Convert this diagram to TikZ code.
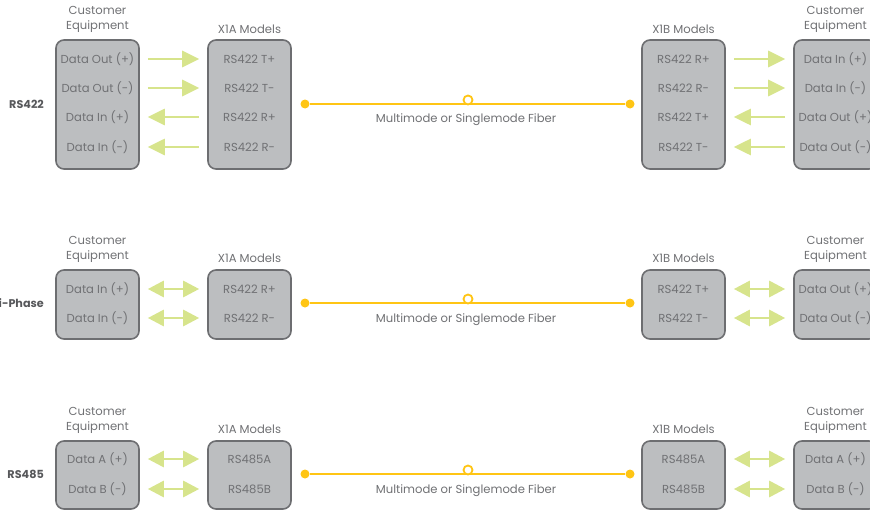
\documentclass[tikz,border=0pt]{standalone}
\usepackage{fontspec}
\setmainfont{Poppins}
\usetikzlibrary{arrows.meta}
\definecolor{boxGrey}{RGB}{188,190,192}
\definecolor{edgeGrey}{RGB}{109,110,113}
\definecolor{textGrey}{RGB}{112,113,116}
\definecolor{sigGreen}{RGB}{215,228,140}
\definecolor{fiberGold}{RGB}{255,197,20}
\tikzset{
  unit/.style={draw=edgeGrey, fill=boxGrey, line width=1.6pt, rounded corners=8pt, minimum width=83pt, inner sep=0pt},
  pin/.style={text=textGrey, font=\fontsize{11.6}{13}\selectfont, inner sep=1pt},
  head/.style={text=textGrey, font=\fontsize{11.6}{15}\selectfont, align=center, inner sep=0pt},
  tag/.style={text=edgeGrey!80!black, font=\fontsize{11.2}{13}\selectfont\bfseries, anchor=east, inner sep=0pt},
  sig/.style={draw=sigGreen, line width=2.8pt, -{Triangle[length=17pt,width=16pt]}},
  duplex/.style={draw=sigGreen, line width=2.8pt, {Triangle[length=16pt,width=16pt]}-{Triangle[length=16pt,width=16pt]}},
  fiber/.style={draw=fiberGold, line width=2pt},
  splice/.style={circle, draw=fiberGold, fill=white, line width=1.8pt, minimum size=9pt, inner sep=0pt},
  tip/.style={circle, fill=fiberGold, minimum size=9pt, inner sep=0pt}
}
\begin{document}
\begin{tikzpicture}[x=1pt, y=-1pt]
    \useasboundingbox (0,0) rectangle (870,511);
    \clip (0,0) rectangle (870,511);

    % RS422
    \node[tag] (rs422) at (44,104) {RS422};
    \node[head] (ceh1) at (97.5,19.5) {Customer\\Equipment};
    \node[head] (xah1) at (249.5,29) {X1A Models};
    \node[head] (xbh1) at (683.5,29) {X1B Models};
    \node[head] (cfh1) at (835.5,19.5) {Customer\\Equipment};
    \node[unit, minimum height=129pt] (ce1) at (97.5,104.5) {};
    \node[unit, minimum height=129pt] (xa1) at (249.5,104.5) {};
    \node[unit, minimum height=129pt] (xb1) at (683.5,104.5) {};
    \node[unit, minimum height=129pt] (cf1) at (835.5,104.5) {};
    \node[pin] (ce1a) at (97.5,59) {Data Out (+)};
    \node[pin] (ce1b) at (97.5,88) {Data Out (-)};
    \node[pin] (ce1c) at (97.5,117) {Data In (+)};
    \node[pin] (ce1d) at (97.5,147) {Data In (-)};
    \node[pin] (xa1a) at (249.5,59) {RS422 T+};
    \node[pin] (xa1b) at (249.5,88) {RS422 T-};
    \node[pin] (xa1c) at (249.5,117) {RS422 R+};
    \node[pin] (xa1d) at (249.5,147) {RS422 R-};
    \node[pin] (xb1a) at (683.5,59) {RS422 R+};
    \node[pin] (xb1b) at (683.5,88) {RS422 R-};
    \node[pin] (xb1c) at (683.5,117) {RS422 T+};
    \node[pin] (xb1d) at (683.5,147) {RS422 T-};
    \node[pin] (cf1a) at (835.5,59) {Data In (+)};
    \node[pin] (cf1b) at (835.5,88) {Data In (-)};
    \node[pin] (cf1c) at (835.5,117) {Data Out (+)};
    \node[pin] (cf1d) at (835.5,147) {Data Out (-)};
    \draw[sig] ([xshift=8pt]ce1.east |- ce1a) -- ([xshift=-8pt]xa1.west |- xa1a);
    \draw[sig] ([xshift=8pt]ce1.east |- ce1b) -- ([xshift=-8pt]xa1.west |- xa1b);
    \draw[sig] ([xshift=-8pt]xa1.west |- xa1c) -- ([xshift=8pt]ce1.east |- ce1c);
    \draw[sig] ([xshift=-8pt]xa1.west |- xa1d) -- ([xshift=8pt]ce1.east |- ce1d);
    \draw[sig] ([xshift=8pt]xb1.east |- xb1a) -- ([xshift=-8pt]cf1.west |- cf1a);
    \draw[sig] ([xshift=8pt]xb1.east |- xb1b) -- ([xshift=-8pt]cf1.west |- cf1b);
    \draw[sig] ([xshift=-8pt]cf1.west |- cf1c) -- ([xshift=8pt]xb1.east |- xb1c);
    \draw[sig] ([xshift=-8pt]cf1.west |- cf1d) -- ([xshift=8pt]xb1.east |- xb1d);
    \node[tip] (fa1) at (305,104) {};
    \node[tip] (fb1) at (630,104) {};
    \draw[fiber] (fa1) -- (fb1);
    \node[splice] (sp1) at (468,100) {};
    \node[pin] (fl1) at (466,120) {Multimode or Singlemode Fiber};

    % Bi-Phase
    \node[tag] (biph) at (44,303) {Bi-Phase};
    \node[head] (ceh2) at (97.5,249.5) {Customer\\Equipment};
    \node[head] (xah2) at (249.5,258) {X1A Models};
    \node[head] (xbh2) at (683.5,258) {X1B Models};
    \node[head] (cfh2) at (835.5,249.5) {Customer\\Equipment};
    \node[unit, minimum height=69pt] (ce2) at (97.5,304.5) {};
    \node[unit, minimum height=69pt] (xa2) at (249.5,304.5) {};
    \node[unit, minimum height=69pt] (xb2) at (683.5,304.5) {};
    \node[unit, minimum height=69pt] (cf2) at (835.5,304.5) {};
    \node[pin] (ce2a) at (97.5,289) {Data In (+)};
    \node[pin] (ce2b) at (97.5,318) {Data In (-)};
    \node[pin] (xa2a) at (249.5,289) {RS422 R+};
    \node[pin] (xa2b) at (249.5,318) {RS422 R-};
    \node[pin] (xb2a) at (683.5,289) {RS422 T+};
    \node[pin] (xb2b) at (683.5,318) {RS422 T-};
    \node[pin] (cf2a) at (835.5,289) {Data Out (+)};
    \node[pin] (cf2b) at (835.5,318) {Data Out (-)};
    \draw[duplex] ([xshift=8pt]ce2.east |- ce2a) -- ([xshift=-8pt]xa2.west |- xa2a);
    \draw[duplex] ([xshift=8pt]ce2.east |- ce2b) -- ([xshift=-8pt]xa2.west |- xa2b);
    \draw[duplex] ([xshift=8pt]xb2.east |- xb2a) -- ([xshift=-8pt]cf2.west |- cf2a);
    \draw[duplex] ([xshift=8pt]xb2.east |- xb2b) -- ([xshift=-8pt]cf2.west |- cf2b);
    \node[tip] (fa2) at (305,303) {};
    \node[tip] (fb2) at (630,303) {};
    \draw[fiber] (fa2) -- (fb2);
    \node[splice] (sp2) at (468,299) {};
    \node[pin] (fl2) at (466,320) {Multimode or Singlemode Fiber};

    % RS485
    \node[tag] (rs485) at (44,474) {RS485};
    \node[head] (ceh3) at (97.5,420.5) {Customer\\Equipment};
    \node[head] (xah3) at (249.5,429) {X1A Models};
    \node[head] (xbh3) at (683.5,429) {X1B Models};
    \node[head] (cfh3) at (835.5,420.5) {Customer\\Equipment};
    \node[unit, minimum height=68pt] (ce3) at (97.5,475) {};
    \node[unit, minimum height=68pt] (xa3) at (249.5,475) {};
    \node[unit, minimum height=68pt] (xb3) at (683.5,475) {};
    \node[unit, minimum height=68pt] (cf3) at (835.5,475) {};
    \node[pin] (ce3a) at (97.5,459) {Data A (+)};
    \node[pin] (ce3b) at (97.5,489) {Data B (-)};
    \node[pin] (xa3a) at (249.5,459) {RS485A};
    \node[pin] (xa3b) at (249.5,489) {RS485B};
    \node[pin] (xb3a) at (683.5,459) {RS485A};
    \node[pin] (xb3b) at (683.5,489) {RS485B};
    \node[pin] (cf3a) at (835.5,459) {Data A (+)};
    \node[pin] (cf3b) at (835.5,489) {Data B (-)};
    \draw[duplex] ([xshift=8pt]ce3.east |- ce3a) -- ([xshift=-8pt]xa3.west |- xa3a);
    \draw[duplex] ([xshift=8pt]ce3.east |- ce3b) -- ([xshift=-8pt]xa3.west |- xa3b);
    \draw[duplex] ([xshift=8pt]xb3.east |- xb3a) -- ([xshift=-8pt]cf3.west |- cf3a);
    \draw[duplex] ([xshift=8pt]xb3.east |- xb3b) -- ([xshift=-8pt]cf3.west |- cf3b);
    \node[tip] (fa3) at (305,474) {};
    \node[tip] (fb3) at (630,474) {};
    \draw[fiber] (fa3) -- (fb3);
    \node[splice] (sp3) at (468,470) {};
    \node[pin] (fl3) at (466,491) {Multimode or Singlemode Fiber};
  \end{tikzpicture}
\end{document}
